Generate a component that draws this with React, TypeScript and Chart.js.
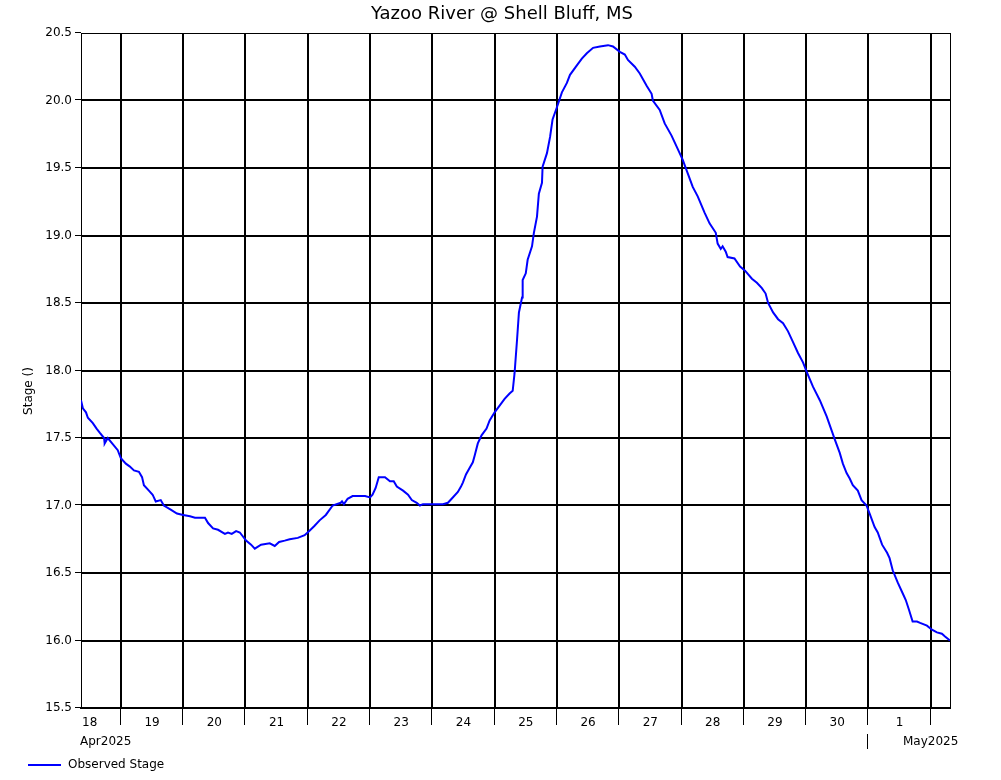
import React, { useEffect, useRef } from "react";
import { Chart, registerables } from "chart.js";

Chart.register(...registerables);

const TITLE = "Yazoo River @ Shell Bluff, MS";
const Y_TITLE = "Stage ()";
const SERIES_LABEL = "Observed Stage";

// time as April day number (18.5 = Apr 18 12:00, 31 = May 1 00:00)
const times = [
  18.36, 18.39, 18.44, 18.47, 18.55, 18.61, 18.66, 18.73, 18.74, 18.79,
  18.86, 18.95, 19.0, 19.08, 19.14, 19.21, 19.29, 19.34, 19.37, 19.45,
  19.51, 19.56, 19.64, 19.69, 19.8, 19.9, 20.0, 20.11, 20.19, 20.35,
  20.4, 20.48, 20.56, 20.67, 20.72, 20.78, 20.85, 20.91, 21.01, 21.09,
  21.15, 21.25, 21.39, 21.47, 21.54, 21.63, 21.71, 21.84, 21.95, 22.02,
  22.11, 22.19, 22.29, 22.4, 22.53, 22.55, 22.58, 22.64, 22.72, 22.92,
  23.0, 23.04, 23.09, 23.14, 23.24, 23.32, 23.38, 23.43, 23.53, 23.61,
  23.67, 23.75, 23.8, 23.85, 24.17, 24.25, 24.31, 24.41, 24.46, 24.49,
  24.54, 24.6, 24.65, 24.68, 24.73, 24.79, 24.87, 24.92, 25.0, 25.08,
  25.16, 25.24, 25.29, 25.32, 25.36, 25.39, 25.44, 25.45, 25.5, 25.53,
  25.6, 25.63, 25.68, 25.71, 25.76, 25.77, 25.84, 25.89, 25.93, 26.0,
  26.08, 26.16, 26.21, 26.32, 26.4, 26.48, 26.58, 26.69, 26.82, 26.9,
  27.01, 27.09, 27.14, 27.25, 27.33, 27.44, 27.52, 27.54, 27.65, 27.73,
  27.84, 27.92, 28.02, 28.1, 28.18, 28.26, 28.37, 28.45, 28.55, 28.58,
  28.63, 28.66, 28.71, 28.74, 28.85, 28.94, 29.02, 29.13, 29.21, 29.29,
  29.35, 29.39, 29.47, 29.55, 29.63, 29.71, 29.79, 29.87, 29.95, 30.01,
  30.11, 30.22, 30.33, 30.46, 30.54, 30.59, 30.65, 30.7, 30.75, 30.83,
  30.89, 30.97, 31.02, 31.1, 31.15, 31.22, 31.3, 31.34, 31.39, 31.47,
  31.55, 31.6, 31.65, 31.71, 31.78, 31.83, 31.94, 32.02, 32.1, 32.18,
  32.23, 32.31,
];

const stage = [
  17.78, 17.72, 17.69, 17.65, 17.61, 17.57, 17.54, 17.5, 17.46, 17.5,
  17.46, 17.41, 17.35, 17.31, 17.29, 17.26, 17.25, 17.21, 17.15, 17.11,
  17.08, 17.03, 17.04, 17.0, 16.97, 16.94, 16.93, 16.92, 16.91, 16.91,
  16.87, 16.83, 16.82, 16.79, 16.8, 16.79, 16.81, 16.8, 16.74, 16.71,
  16.68, 16.71, 16.72, 16.7, 16.73, 16.74, 16.75, 16.76, 16.78, 16.81,
  16.85, 16.89, 16.93, 17.0, 17.02, 17.03, 17.01, 17.05, 17.07, 17.07,
  17.06, 17.08, 17.13, 17.21, 17.21, 17.18, 17.18, 17.14, 17.11, 17.08,
  17.04, 17.02, 17.0, 17.01, 17.01, 17.02, 17.05, 17.1, 17.14, 17.17,
  17.23, 17.28, 17.32, 17.37, 17.46, 17.52, 17.57, 17.63, 17.69, 17.74,
  17.79, 17.83, 17.85, 17.98, 18.23, 18.43, 18.54, 18.67, 18.72, 18.82,
  18.92, 19.02, 19.14, 19.31, 19.39, 19.51, 19.61, 19.73, 19.86, 19.95,
  20.06, 20.13, 20.19, 20.26, 20.31, 20.35, 20.39, 20.4, 20.41, 20.4,
  20.36, 20.34, 20.3, 20.25, 20.2, 20.11, 20.05, 20.0, 19.93, 19.83,
  19.74, 19.66, 19.56, 19.46, 19.36, 19.29, 19.17, 19.09, 19.02, 18.94,
  18.9, 18.92, 18.88, 18.84, 18.83, 18.77, 18.74, 18.68, 18.65, 18.61,
  18.57, 18.5, 18.43, 18.38, 18.35, 18.29, 18.21, 18.13, 18.06, 17.99,
  17.88, 17.78, 17.66, 17.49, 17.39, 17.31, 17.24, 17.2, 17.15, 17.11,
  17.04, 17.0, 16.94, 16.84, 16.8, 16.71, 16.65, 16.61, 16.52, 16.43,
  16.35, 16.3, 16.23, 16.14, 16.14, 16.13, 16.11, 16.08, 16.06, 16.05,
  16.03, 16.0,
];

const X_MIN = 18.36;
const X_MAX = 32.31;
const DAY_BOUNDARIES = [19, 20, 21, 22, 23, 24, 25, 26, 27, 28, 29, 30, 31, 32];
const DAY_CENTERS = [18.5, 19.5, 20.5, 21.5, 22.5, 23.5, 24.5, 25.5, 26.5, 27.5, 28.5, 29.5, 30.5, 31.5];
const DAY_LABELS = ["18", "19", "20", "21", "22", "23", "24", "25", "26", "27", "28", "29", "30", "1"];
const MONTH_START = "Apr2025";
const MONTH_NEXT = "May2025";
const MONTH_SPLIT = 31;
const MONTH_NEXT_AT = 32;

const Y_MIN = 15.5;
const Y_MAX = 20.5;
const Y_STEP = 0.5;

const FONT = "'DejaVu Sans', sans-serif";
const LINE_COLOR = "#0000ff";

const decorPlugin = {
  id: "decor",
  afterDraw(chart: any) {
    const ctx = chart.ctx;
    const area = chart.chartArea;
    const xs = chart.scales.x;
    const ys = chart.scales.y;
    ctx.save();
    ctx.strokeStyle = "#000";
    ctx.lineWidth = 1;
    // right frame
    ctx.beginPath();
    ctx.moveTo(Math.round(area.right) + 0.5, area.top);
    ctx.lineTo(Math.round(area.right) + 0.5, area.bottom);
    ctx.stroke();

    // x tick marks at day boundaries
    ctx.beginPath();
    for (const v of DAY_BOUNDARIES) {
      const px = Math.round(xs.getPixelForValue(v)) - 0.5;
      ctx.moveTo(px, area.bottom);
      ctx.lineTo(px, area.bottom + 17);
    }
    // y tick marks
    for (let v = Y_MIN; v <= Y_MAX + 1e-9; v += Y_STEP) {
      const py = Math.round(ys.getPixelForValue(v)) - 0.5;
      ctx.moveTo(area.left - 6, py);
      ctx.lineTo(area.left, py);
    }
    ctx.stroke();

    ctx.fillStyle = "#000";
    // title
    ctx.font = `18px ${FONT}`;
    ctx.textAlign = "center";
    ctx.textBaseline = "alphabetic";
    ctx.fillText(TITLE, 502, 19);

    // y title
    ctx.save();
    ctx.font = `12px ${FONT}`;
    ctx.translate(32, 391);
    ctx.rotate(-Math.PI / 2);
    ctx.textAlign = "center";
    ctx.textBaseline = "alphabetic";
    ctx.fillText(Y_TITLE, 0, 0);
    ctx.restore();

    // month row
    ctx.font = `12px ${FONT}`;
    ctx.textBaseline = "alphabetic";
    ctx.textAlign = "left";
    ctx.fillText(MONTH_START, xs.getPixelForValue(X_MIN) - 1, 745);
    ctx.textAlign = "center";
    ctx.fillText(MONTH_NEXT, xs.getPixelForValue(MONTH_NEXT_AT), 745);
    const sx = Math.round(xs.getPixelForValue(MONTH_SPLIT)) - 0.5;
    ctx.beginPath();
    ctx.moveTo(sx, 734);
    ctx.lineTo(sx, 749);
    ctx.stroke();

    // legend
    ctx.strokeStyle = LINE_COLOR;
    ctx.lineWidth = 2;
    ctx.beginPath();
    ctx.moveTo(28, 765);
    ctx.lineTo(61, 765);
    ctx.stroke();
    ctx.fillStyle = "#000";
    ctx.textAlign = "left";
    ctx.textBaseline = "middle";
    ctx.fillText(SERIES_LABEL, 68, 765);
    ctx.restore();
  },
};

export default function App() {
  const ref = useRef<HTMLCanvasElement | null>(null);

  useEffect(() => {
    if (!ref.current) return;
    Chart.defaults.font.family = FONT;
    Chart.defaults.font.size = 12;
    Chart.defaults.color = "#000";

    const isBoundary = (v: number) => DAY_BOUNDARIES.includes(v);

    const chart = new Chart(ref.current, {
      type: "line",
      data: {
        datasets: [
          {
            label: SERIES_LABEL,
            data: times.map((t, i) => ({ x: t, y: stage[i] })),
            borderColor: LINE_COLOR,
            borderWidth: 2,
            pointRadius: 0,
            tension: 0,
            fill: false,
          },
        ],
      },
      options: {
        animation: false,
        responsive: false,
        devicePixelRatio: 1,
        events: [],
        layout: { padding: { top: 33, right: 51, left: 0, bottom: 0 } },
        plugins: {
          legend: { display: false },
          title: { display: false },
          tooltip: { enabled: false },
        },
        scales: {
          x: {
            type: "linear",
            min: X_MIN,
            max: X_MAX,
            afterBuildTicks: (scale: any) => {
              const vals = [...DAY_CENTERS, ...DAY_BOUNDARIES].sort((a, b) => a - b);
              scale.ticks = vals.map((v) => ({ value: v }));
            },
            afterFit: (scale: any) => {
              scale.height = 72;
            },
            grid: {
              color: (c: any) => (isBoundary(c.tick?.value) ? "#000" : "rgba(0,0,0,0)"),
              lineWidth: 2,
              drawTicks: false,
            },
            border: { display: true, color: "#000", width: 2 },
            ticks: {
              autoSkip: false,
              maxRotation: 0,
              minRotation: 0,
              padding: 8,
              font: { family: FONT, size: 12 },
              color: "#000",
              callback: (value: any) => {
                const idx = DAY_CENTERS.indexOf(Number(value));
                return idx >= 0 ? DAY_LABELS[idx] : "";
              },
            },
          },
          y: {
            type: "linear",
            min: Y_MIN,
            max: Y_MAX,
            afterFit: (scale: any) => {
              scale.width = 81;
            },
            grid: {
              color: "#000",
              lineWidth: (c: any) => (c.tick?.value === Y_MAX ? 1 : 2),
              drawTicks: false,
            },
            border: { display: true, color: "#000", width: 1 },
            ticks: {
              stepSize: Y_STEP,
              padding: 9,
              font: { family: FONT, size: 12 },
              color: "#000",
              callback: (value: any) => Number(value).toFixed(1),
            },
          },
        },
      },
      plugins: [decorPlugin],
    } as any);

    return () => chart.destroy();
  }, []);

  return (
    <div style={{ position: "fixed", left: 0, top: 0, width: 1001, height: 780, background: "#fff" }}>
      <canvas ref={ref} width={1001} height={780} style={{ width: 1001, height: 780 }} />
    </div>
  );
}
